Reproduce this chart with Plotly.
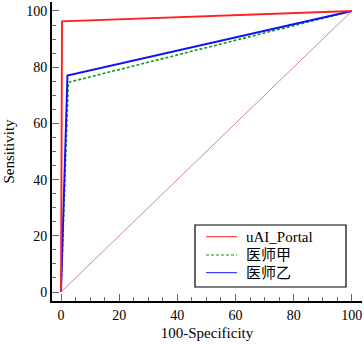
import plotly.graph_objects as go

# ROC points (100-Specificity, Sensitivity)
series_names = ["uAI_Portal", "医师甲", "医师乙"]
series_colors = ["#ff2020", "#119911", "#1010ff"]
series_dash = ["solid", "3px,2px", "solid"]
fpr_uai = [0, 0.35, 100]
tpr_uai = [0, 96.3, 100]
fpr_a = [0, 2.5, 100]
tpr_a = [0, 74.6, 100]
fpr_b = [0, 2.2, 100]
tpr_b = [0, 77.0, 100]
diag_x = [0, 100]
diag_y = [0, 100]
tick_vals = [0, 20, 40, 60, 80, 100]
tick_text = ["0", "20", "40", "60", "80", "100"]

FONT = "Liberation Serif, Noto Sans CJK SC"

fig = go.Figure()
fig.add_trace(go.Scatter(x=diag_x, y=diag_y, mode="lines",
                         line=dict(color="#d08a8a", width=1), hoverinfo="skip"))
fig.add_trace(go.Scatter(x=fpr_a, y=tpr_a, mode="lines", name=series_names[1],
                         line=dict(color=series_colors[1], width=1.6, dash=series_dash[1])))
fig.add_trace(go.Scatter(x=fpr_b, y=tpr_b, mode="lines", name=series_names[2],
                         line=dict(color=series_colors[2], width=1.9)))
fig.add_trace(go.Scatter(x=fpr_uai, y=tpr_uai, mode="lines", name=series_names[0],
                         line=dict(color=series_colors[0], width=1.9)))

axis_common = dict(
    showgrid=False, zeroline=False, showline=True, linecolor="black", linewidth=2,
    ticks="inside", ticklen=7, tickwidth=1.3, tickcolor="#666",
    tickvals=tick_vals, ticktext=tick_text, automargin=False,
    tickfont=dict(family=FONT, size=14, color="black"),
    minor=dict(dtick=5, ticks="inside", ticklen=4, tickwidth=1.1, tickcolor="#666", showgrid=False),
)

fig.update_layout(
    width=364, height=344,
    margin=dict(l=52, r=2, t=2, b=43),
    paper_bgcolor="white", plot_bgcolor="white",
    font=dict(family=FONT, size=15, color="black"),
    showlegend=False,
    xaxis=dict(range=[-3.1, 103.5], title=dict(text="100-Specificity", standoff=6,
               font=dict(family=FONT, size=15)), **axis_common),
    yaxis=dict(range=[-3.2, 103.2], title=dict(text="Sensitivity", standoff=8,
               font=dict(family=FONT, size=15)), **axis_common),
)

# Legend box drawn in paper coordinates
fig.add_shape(type="rect", xref="paper", yref="paper",
              x0=0.4613, x1=0.9484, y0=0.0468, y1=0.2542,
              line=dict(color="black", width=1.2), fillcolor="white", layer="above")
row_y = [0.2151, 0.1538, 0.0946]
for name, col, dsh, ry in zip(series_names, series_colors, series_dash, row_y):
    fig.add_shape(type="line", xref="paper", yref="paper",
                  x0=0.4968, x1=0.5968, y0=ry, y1=ry,
                  line=dict(color=col, width=1, dash=dsh), layer="above")
    fig.add_annotation(xref="paper", yref="paper", x=0.6194, y=ry, text=name,
                       showarrow=False, xanchor="left", yanchor="middle",
                       font=dict(family=FONT, size=15, color="black"))

fig.write_html("out.html", config={"displayModeBar": False},
               post_script="document.body.style.margin='0';document.body.style.overflow='hidden';")
